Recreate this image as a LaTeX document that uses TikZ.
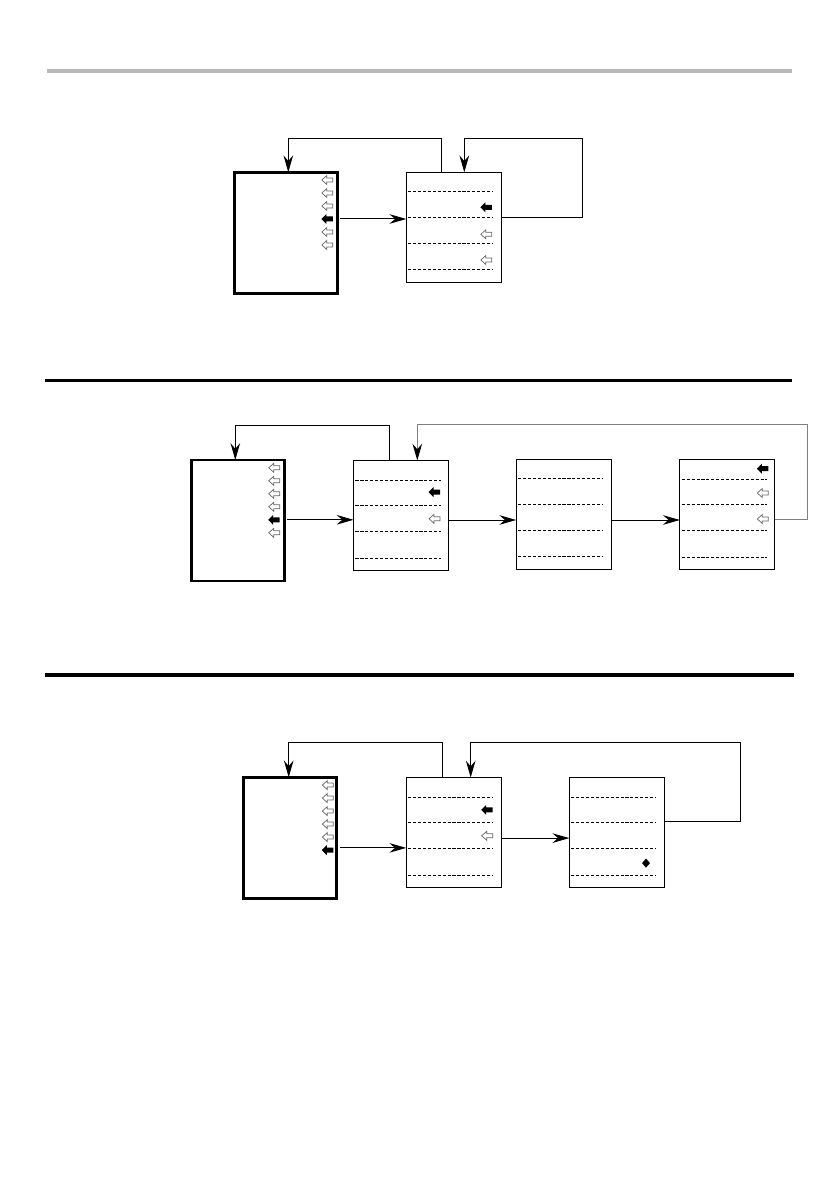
\documentclass[tikz,border=0pt]{standalone}
\usetikzlibrary{arrows.meta,calc}
\tikzset{
  flowtip/.tip={Stealth[length=4.2mm,width=2.4mm,inset=1.4mm]},
  pics/openarr/.style={code={
    \draw[black!60, line width=0.5pt, line join=miter] (-5.5,0) -- (-0.5,4.5) -- (-0.5,2) -- (5.5,2) -- (5.5,-2) -- (-0.5,-2) -- (-0.5,-4.5) -- cycle;}},
  pics/fullarr/.style={code={
    \fill (-6,0) -- (-1,5) -- (-1,2.5) -- (5.5,2.5) -- (5.5,-2.5) -- (-1,-2.5) -- (-1,-5) -- cycle;}},
  pics/endmark/.style={code={
    \fill (0,4.5) -- (4,0) -- (0,-4.5) -- (-4,0) -- cycle;}}
}

\begin{document}
\begin{tikzpicture}[x=0.025cm, y=0.025cm, line width=0.7pt,
    srcbox/.style={draw, line width=1.9pt, inner sep=0pt, outer sep=0pt, minimum width=2.325cm, minimum height=3.025cm},
    listbox/.style={draw, line width=0.6pt, inner sep=0pt, outer sep=0pt, minimum width=2.375cm, minimum height=2.75cm},
    rule/.style={line width=2.8pt},
    slot/.style={dash pattern=on 2.2pt off 1.3pt, line width=0.6pt},
    flow/.style={-{flowtip}},
    backflow/.style={gray, -{flowtip[black]}}]
    \useasboundingbox (0,0) rectangle (839,-1191);

    % First layout
    \draw[rule, gray!55] (47,-70.7) -- (792,-70.7);
    \node[srcbox, minimum width=2.565cm] (l1) at (286,-232.7) {};
    \node[listbox] (r1) at (453.8,-227.3) {};
    \foreach \i/\k in {0/openarr,1/openarr,2/openarr,3/fullarr,4/openarr,5/openarr}
      \pic at ($(l1.north east)+(-10,-7.8-13*\i)$) {\k};
    \coordinate (l1sel) at ($(l1.north east)+(-10,-46.8)$);
    \pic at ($(r1.north east)+(-15,-35)$) {fullarr};
    \pic at ($(r1.north east)+(-15,-62)$) {openarr};
    \pic at ($(r1.north east)+(-15,-87.7)$) {openarr};
    \draw[flow] ($(l1sel)+(13,0)$) -- (r1.west |- l1sel);
    \draw[flow] ($(r1.north)+(-12,0)$) -- ++(0,34) -| ($(l1.north)+(2.3,0)$);
    \draw[flow] ($(r1.north east)+(0,-45)$) -| ++(81.6,79) -| ($(r1.north)+(10.5,0)$);

    % Second layout
    \draw[rule] (45,-380.5) -- (792,-380.5);
    \node[srcbox] (l2) at (237.7,-520.5) {};
    \node[listbox] (b2) at (401,-515.5) {};
    \node[listbox] (c2) at (563.7,-514.3) {};
    \node[listbox] (d2) at (727.3,-514.7) {};
    \foreach \i/\k in {0/openarr,1/openarr,2/openarr,3/openarr,4/fullarr,5/openarr}
      \pic at ($(l2.north east)+(-10,-7.8-13*\i)$) {\k};
    \coordinate (l2sel) at ($(l2.north east)+(-10,-59.8)$);
    \pic at ($(b2.north east)+(-14,-31.6)$) {fullarr};
    \pic at ($(b2.north east)+(-14,-58.3)$) {openarr};
    \coordinate (b2sel) at ($(b2.north east)+(-14,-59.5)$);
    \pic at ($(d2.north east)+(-12,-9)$) {fullarr};
    \pic at ($(d2.north east)+(-12,-33.3)$) {openarr};
    \pic at ($(d2.north east)+(-12,-59.3)$) {openarr};
    \coordinate (d2sel) at ($(d2.north east)+(-12,-59.3)$);
    \draw[flow] ($(l2sel)+(13,0)$) -- (b2.west |- l2sel);
    \draw[flow] (b2.east |- b2sel) -- (c2.west |- b2sel);
    \draw[flow] (c2.east |- b2sel) -- (d2.west |- b2sel);
    \draw[flow] ($(b2.north)+(-11.7,0)$) -- ++(0,35.4) -| ($(l2.north)+(-2.4,0)$);
    \draw[backflow] (d2.east |- d2sel) -| ++(32.6,94) -| ($(b2.north)+(16.3,0)$);

    % Third layout
    \draw[rule] (45,-674.7) -- (794,-674.7);
    \node[srcbox] (l3) at (290.3,-837.8) {};
    \node[listbox] (b3) at (453.7,-832.5) {};
    \node[listbox] (c3) at (616.8,-832.5) {};
    \foreach \i/\k in {0/openarr,1/openarr,2/openarr,3/openarr,4/openarr,5/fullarr}
      \pic at ($(l3.north east)+(-9,-7.8-13*\i)$) {\k};
    \coordinate (l3sel) at ($(l3.north east)+(-9,-70.6)$);
    \pic at ($(b3.north east)+(-14,-32.3)$) {fullarr};
    \pic at ($(b3.north east)+(-14,-58.3)$) {openarr};
    \coordinate (b3sel) at ($(b3.north east)+(-14,-60.6)$);
    \pic at ($(c3.north east)+(-18.3,-85.6)$) {endmark};
    \draw[flow] ($(l3sel)+(12,0)$) -- (b3.west |- l3sel);
    \draw[flow] (b3.east |- b3sel) -- (c3.west |- b3sel);
    \draw[flow] ($(b3.north)+(-11.4,0)$) -- ++(0,35.4) -| ($(l3.north)+(-1.6,0)$);
    \draw[flow] ($(c3.north east)+(0,-44)$) -| ++(76,79.4) -| ($(b3.north)+(17,0)$);

    % dashed slots
    \foreach \b in {r1,b2,c2,d2,b3,c3}
      \foreach \d in {19.5,45,71,97.5}
        \draw[slot] ($(\b.north west)+(2,-\d)$) -- ($(\b.north east)+(-8,-\d)$);
\end{tikzpicture}
\end{document}
